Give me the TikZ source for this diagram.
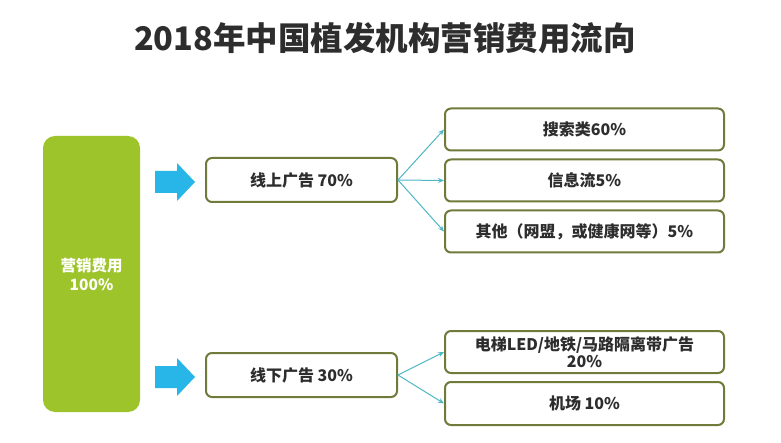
\documentclass[tikz,border=0pt]{standalone}
\usepackage{fontspec}
\setmainfont{Noto Sans CJK SC}
\usetikzlibrary{arrows.meta}
\definecolor{boxline}{RGB}{112,122,58}
\definecolor{leafgreen}{RGB}{158,196,44}
\definecolor{cyanarrow}{RGB}{40,182,232}
\definecolor{conncol}{RGB}{78,184,196}
\definecolor{txt}{RGB}{45,45,45}
\tikzset{
  flowbox/.style={draw=boxline, line width=2pt, rounded corners=6pt, fill=white,
    text=txt, font=\fontsize{16}{18}\selectfont\bfseries, align=center, inner sep=0pt},
  conn/.style={draw=conncol, line width=1pt, -{Stealth[length=6pt,width=5pt]}},
  bigarrow/.style={fill=cyanarrow, draw=none}
}
\begin{document}
\begin{tikzpicture}[x=1pt,y=-1pt]
\useasboundingbox (0,0) rectangle (781,443);
\fill[white] (0,0) rectangle (781,443);
\node[text=txt, font=\fontsize{32.5}{36}\selectfont\bfseries] (title) at (385,38) {2018年中国植发机构营销费用流向};
% main green box
\node[fill=leafgreen, rounded corners=12pt, minimum width=97pt, minimum height=276pt, inner sep=0pt,
  text=white, font=\fontsize{15.5}{19}\selectfont\bfseries, align=center] (total) at (91.5,274) {营销费用\\100\%};
% big arrows
\fill[bigarrow] (155,171) -- (177,171) -- (177,163) -- (195,182) -- (177,201) -- (177,193) -- (155,193) -- cycle;
\fill[bigarrow] (155,366) -- (177,366) -- (177,358) -- (195,377) -- (177,396) -- (177,388) -- (155,388) -- cycle;
% second level
\node[flowbox, minimum width=191pt, minimum height=44pt] (on) at (301.5,180) {线上广告 70\%};
\node[flowbox, minimum width=191pt, minimum height=44pt] (off) at (301.5,375) {线下广告 30\%};
% third level
\node[flowbox, minimum width=279pt, minimum height=42pt] (r1) at (584.5,129.5) {搜索类60\%};
\node[flowbox, minimum width=279pt, minimum height=42pt] (r2) at (584.5,180.5) {信息流5\%};
\node[flowbox, minimum width=279pt, minimum height=42pt] (r3) at (584.5,231.5) {其他（网盟，或健康网等）5\%};
\node[flowbox, minimum width=279pt, minimum height=42pt, font=\fontsize{16}{17}\selectfont\bfseries] (r4) at (584.5,352) {电梯LED/地铁/马路隔离带广告\\20\%};
\node[flowbox, minimum width=279pt, minimum height=43pt] (r5) at (584.5,403.5) {机场 10\%};
% connectors
\draw[conn] (on.east) -- (r1.west);
\draw[conn] (on.east) -- (r2.west);
\draw[conn] (on.east) -- (r3.west);
\draw[conn] (off.east) -- (r4.west);
\draw[conn] (off.east) -- (r5.west);
\end{tikzpicture}
\end{document}
